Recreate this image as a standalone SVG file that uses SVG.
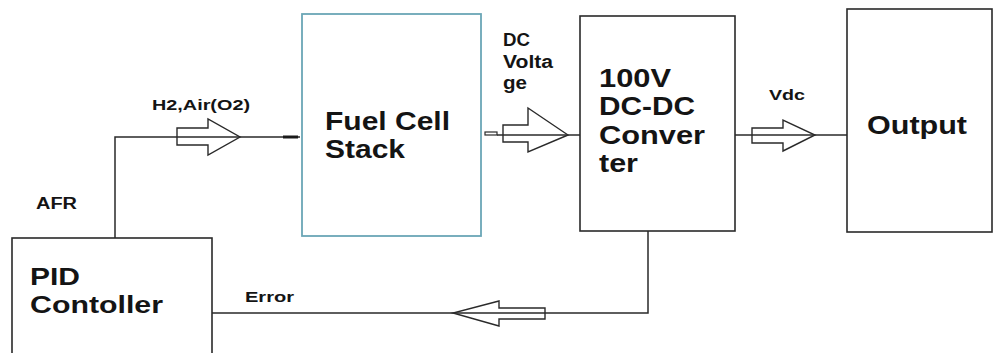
<svg xmlns="http://www.w3.org/2000/svg" width="994" height="353" viewBox="0 0 994 353">
<style>
.box{fill:none;stroke:#2a2a2a;stroke-width:1.6}
.fc{fill:none;stroke:#6aa6b6;stroke-width:1.8}
.ln{fill:none;stroke:#2a2a2a;stroke-width:1.5}
.ar{fill:none;stroke:#2a2a2a;stroke-width:1.4;stroke-linejoin:miter}
text{font-family:"Liberation Sans",Arial,sans-serif;font-weight:bold;fill:#141414}
.big{font-size:25px}
.sm{font-size:14px}
</style>
<rect width="994" height="353" fill="#ffffff"/>
<g id="connectors">
  <path class="ln" d="M115,238 V137 H300"/>
  <path d="M283,137 H298" stroke="#1a1a1a" stroke-width="3"/>
  <polygon class="ar" points="177,128 208,128 208,119 240,137 208,155 208,145 177,145"/>
  <rect x="485" y="132" width="12" height="3" fill="none" stroke="#2a2a2a" stroke-width="1.2"/>
  <path class="ln" d="M497,135 H580"/>
  <polygon class="ar" points="503,125 528,125 528,108 568,135 528,152 528,142 503,142"/>
  <path class="ln" d="M735,135 H847"/>
  <polygon class="ar" points="752,128 783,128 783,120 815,135 783,151 783,143 752,143"/>
  <path class="ln" d="M648,231 V313 H212"/>
  <polygon class="ar" points="545,308 499,308 499,301 453,313 499,326 499,319 545,319"/>
  <text class="sm" x="152" y="110" textLength="98" lengthAdjust="spacingAndGlyphs">H2,Air(O2)</text>
  <text x="36" y="209" style="font-size:16px" textLength="41" lengthAdjust="spacingAndGlyphs">AFR</text>
  <text x="503" y="46" style="font-size:18px" textLength="27" lengthAdjust="spacingAndGlyphs">DC</text>
  <text x="503" y="68" style="font-size:18px" textLength="50" lengthAdjust="spacingAndGlyphs">Volta</text>
  <text x="503" y="89" style="font-size:18px" textLength="24" lengthAdjust="spacingAndGlyphs">ge</text>
  <text class="sm" x="769" y="100" textLength="36" lengthAdjust="spacingAndGlyphs">Vdc</text>
  <text x="245" y="302" style="font-size:15px" textLength="49" lengthAdjust="spacingAndGlyphs">Error</text>
</g>
<g id="pid">
  <rect class="box" x="12" y="238" width="200" height="130"/>
  <text x="30" y="285" style="font-size:24px" textLength="50" lengthAdjust="spacingAndGlyphs">PID</text>
  <text x="30" y="313" style="font-size:24px" textLength="133" lengthAdjust="spacingAndGlyphs">Contoller</text>
</g>
<g id="fuelcell">
  <rect class="fc" x="302" y="14" width="179" height="222"/>
  <text class="big" x="325" y="130" textLength="125" lengthAdjust="spacingAndGlyphs">Fuel Cell</text>
  <text class="big" x="325" y="158" textLength="80" lengthAdjust="spacingAndGlyphs">Stack</text>
</g>
<g id="converter">
  <rect class="box" x="580" y="16" width="155" height="215"/>
  <text class="big" x="599" y="87" textLength="72" lengthAdjust="spacingAndGlyphs">100V</text>
  <text class="big" x="599" y="115" textLength="96" lengthAdjust="spacingAndGlyphs">DC-DC</text>
  <text class="big" x="599" y="144" textLength="106" lengthAdjust="spacingAndGlyphs">Conver</text>
  <text class="big" x="599" y="172" textLength="39" lengthAdjust="spacingAndGlyphs">ter</text>
</g>
<g id="output">
  <rect class="box" x="847" y="9" width="145" height="223"/>
  <text x="867" y="134" style="font-size:25px" textLength="100" lengthAdjust="spacingAndGlyphs">Output</text>
</g>
</svg>
